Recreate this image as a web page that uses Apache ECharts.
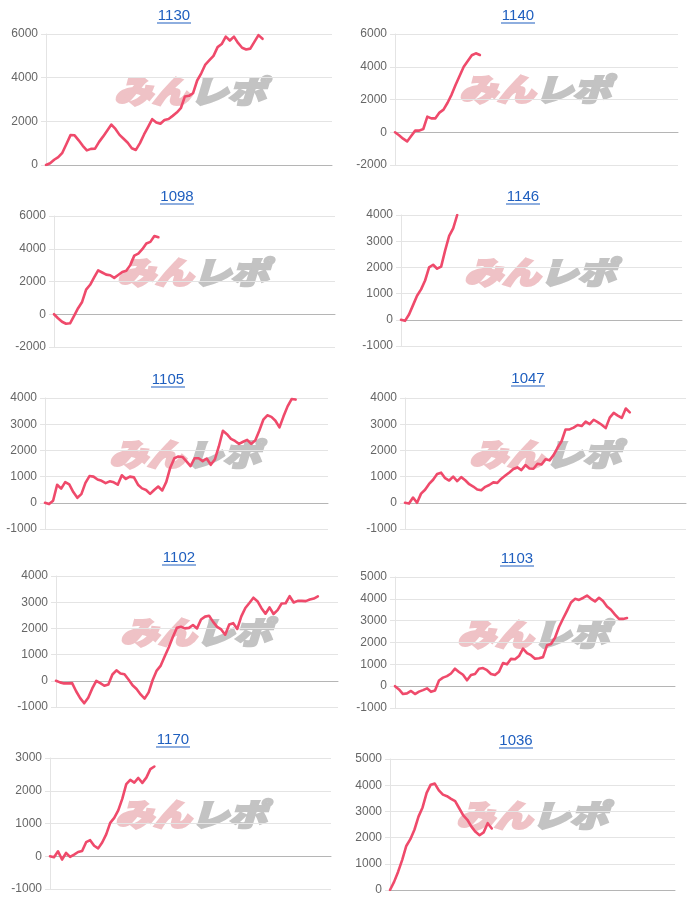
<!DOCTYPE html>
<html><head><meta charset="utf-8">
<script src="https://cdn.jsdelivr.net/npm/echarts@6/dist/echarts.min.js"></script>
<style>html,body{margin:0;padding:0;background:#fff}#c{width:691px;height:900px}</style>
</head><body><div id="c"></div>
<script>
const titles = ['1130','1140','1098','1146','1105','1047','1102','1103','1170','1036'];

const s1130 = [0,80,240,360,560,960,1370,1360,1130,880,670,740,750,1060,1310,1580,1850,1650,1380,1200,1020,770,690,1000,1400,1750,2100,1950,1890,2060,2110,2250,2400,2600,3140,3170,3290,3870,4200,4600,4800,5000,5400,5540,5880,5700,5880,5590,5370,5290,5330,5640,5950,5780];
const s1140 = [0,-180,-390,-560,-230,100,100,200,950,850,850,1200,1380,1800,2300,2900,3450,4000,4350,4700,4820,4720];
const s1098 = [0,-245,-460,-580,-550,-100,370,750,1500,1800,2250,2680,2550,2420,2380,2220,2400,2580,2650,3000,3580,3700,3970,4320,4420,4780,4700];
const s1146 = [0,-40,200,560,920,1160,1500,2000,2100,1950,2030,2650,3200,3490,4000];
const s1105 = [0,-50,80,690,540,790,700,410,190,330,760,1020,1000,890,840,750,820,780,690,1050,910,1000,970,690,550,490,340,490,620,470,800,1350,1700,1770,1750,1580,1400,1700,1700,1590,1690,1450,1650,2150,2750,2620,2440,2360,2250,2330,2400,2250,2380,2750,3170,3340,3280,3130,2880,3300,3680,3960,3940];
const s1047 = [0,-30,200,0,350,500,720,880,1100,1150,940,850,1000,830,980,860,710,620,510,480,610,680,780,760,920,1040,1160,1290,1350,1250,1440,1310,1300,1490,1460,1660,1620,1820,2100,2350,2800,2800,2870,2970,2930,3100,3000,3170,3080,2980,2850,3250,3430,3330,3240,3600,3450];
const s1102 = [0,-60,-100,-100,-90,-400,-660,-860,-650,-290,0,-90,-190,-140,240,400,280,250,50,-170,-310,-520,-680,-440,30,390,580,940,1280,1670,2020,2060,2000,2020,2130,2000,2340,2450,2480,2250,2060,1960,1760,2150,2200,1980,2460,2780,2970,3170,3040,2770,2560,2800,2550,2700,2950,2960,3230,2990,3050,3050,3040,3100,3140,3220];
const s1103 = [0,-150,-360,-330,-220,-360,-250,-180,-100,-260,-200,260,390,460,580,800,650,520,270,510,560,800,830,730,560,510,660,1060,1000,1250,1230,1380,1720,1510,1420,1260,1280,1330,1870,1930,2220,2710,3090,3450,3830,4000,3950,4040,4150,4000,3880,4050,3900,3650,3500,3280,3080,3080,3120];
const s1170 = [0,-30,150,-100,100,-20,50,130,160,430,490,320,240,420,670,1020,1170,1400,1750,2200,2330,2250,2390,2240,2400,2660,2740];
const s1036 = [0,310,700,1150,1680,1940,2300,2800,3150,3710,4020,4060,3800,3640,3580,3480,3390,3120,2850,2680,2420,2220,2090,2200,2550,2350];

const seriesData = [s1130,s1140,s1098,s1146,s1105,s1047,s1102,s1103,s1170,s1036];
const yMin  = [0,-2000,-2000,-1000,-1000,-1000,-1000,-1000,-1000,0];
const yMax  = [6000,6000,6000,4000,4000,4000,4000,5000,3000,5000];
const yStep = [2000,2000,2000,1000,1000,1000,1000,1000,1000,1000];
const days = Array.from({length:71},(_,i)=>String(i+1));

// layout: plot box (l,r,t,b), title centre (tx,ty), watermark centre (wx,wy)
const layout = [
  {l:46,r:332,t:34,b:165,tx:174,ty:16,wx:190,wy:91},
  {l:395,r:678,t:34,b:165,tx:518,ty:16,wx:535,wy:89},
  {l:54,r:335,t:216,b:347,tx:177,ty:197,wx:193,wy:272},
  {l:401,r:682,t:215,b:346,tx:523,ty:197,wx:540,wy:272},
  {l:45,r:328,t:398,b:529,tx:168,ty:380,wx:185,wy:454},
  {l:405,r:686,t:398,b:529,tx:528,ty:379,wx:545,wy:454},
  {l:56,r:338,t:576,b:707,tx:179,ty:558,wx:196,wy:632},
  {l:395,r:675,t:577,b:708,tx:517,ty:559,wx:533,wy:634},
  {l:50,r:331,t:758,b:889,tx:173,ty:740,wx:191,wy:814},
  {l:390,r:675,t:759,b:890,tx:516,ty:741,wx:532,wy:815}
];

const LINE = '#ef4a6b';
const PINK = '#efc2c6';
const GREY = '#c3c3c3';
const option = {
  animation:false,
  backgroundColor:'#fff',
  title:[], grid:[], xAxis:[], yAxis:[], series:[], graphic:[]
};
layout.forEach((p,i)=>{
  option.title.push({
    text:titles[i], left:p.tx, top:p.ty-8, padding:0, textAlign:'center',
    textStyle:{fontFamily:'Liberation Sans',fontSize:15,fontWeight:'normal',color:'#1f5fbf',lineHeight:16}
  });
  option.graphic.push({type:'rect',z:10,shape:{x:p.tx-17,y:p.ty+6.5,width:34,height:1},style:{fill:'#1f5fbf'}});
  option.graphic.push({
    type:'text', z:-10, x:p.wx, y:p.wy, scaleX:1.22,
    style:{
      text:'{a|みん}{b|レポ}', textAlign:'center', textVerticalAlign:'middle',
      rich:{
        a:{fontFamily:'Noto Sans CJK JP',fontSize:31,fontWeight:900,fontStyle:'italic',fill:PINK,stroke:PINK,lineWidth:2.5},
        b:{fontFamily:'Noto Sans CJK JP',fontSize:31,fontWeight:900,fontStyle:'italic',fill:GREY,stroke:GREY,lineWidth:2.5}
      }
    }
  });
  option.grid.push({left:p.l, top:p.t, width:p.r-p.l, height:p.b-p.t, containLabel:false});
  option.xAxis.push({
    type:'category', gridIndex:i, data:days, boundaryGap:false,
    axisLine:{show:true,onZero:true,lineStyle:{color:'#b5b5b5',width:1}},
    axisTick:{show:false}, axisLabel:{show:false}, splitLine:{show:false}
  });
  option.yAxis.push({
    type:'value', gridIndex:i, min:yMin[i], max:yMax[i], interval:yStep[i],
    axisLine:{show:true,lineStyle:{color:'#e4e4e4'}},
    axisTick:{show:true,length:5,lineStyle:{color:'#e4e4e4'}},
    axisLabel:{fontFamily:'Liberation Sans',fontSize:12,color:'#666',margin:8,formatter:v=>String(v)},
    splitLine:{show:true,lineStyle:{color:'#e4e4e4',width:1}}
  });
  option.series.push({
    type:'line', xAxisIndex:i, yAxisIndex:i, data:seriesData[i],
    showSymbol:false, symbol:'none', smooth:false, z:5,
    lineStyle:{color:LINE,width:2.6,join:'round',cap:'round'}, clip:true
  });
});
const chart = echarts.init(document.getElementById('c'),null,{renderer:'canvas'});
chart.setOption(option);
</script>
</body></html>
